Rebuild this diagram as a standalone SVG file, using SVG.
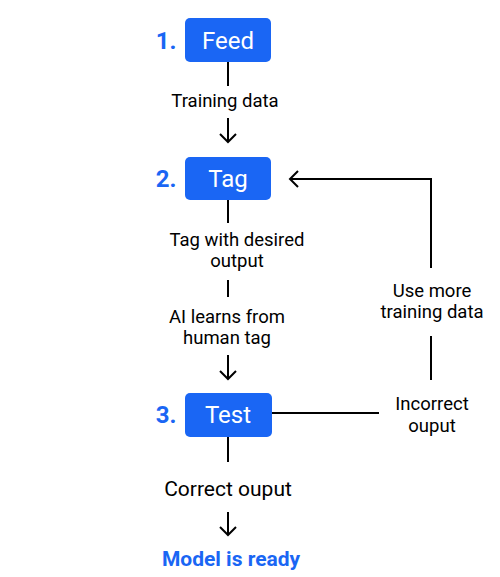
<svg xmlns="http://www.w3.org/2000/svg" width="500" height="577" viewBox="0 0 500 577">
<style>
.box{fill:#1a66f4}
.bt{font-family:Roboto,"Liberation Sans",sans-serif;font-size:24px;fill:#fff;text-anchor:middle}
.num{font-family:Roboto,"Liberation Sans",sans-serif;font-size:24px;font-weight:bold;fill:#1a66f4;text-anchor:middle}
.lbl{font-family:Roboto,"Liberation Sans",sans-serif;font-size:18.5px;fill:#000;text-anchor:middle}
.ln{stroke:#000;stroke-width:2;fill:none}
</style>
<rect width="500" height="577" fill="#fff"/>
<g id="connectors">
<line class="ln" x1="228" y1="62" x2="228" y2="86"/>
<path class="ln" d="M228 118V142M220 134L228 142L236 134"/>
<line class="ln" x1="228" y1="200" x2="228" y2="223"/>
<line class="ln" x1="228" y1="280" x2="228" y2="297"/>
<path class="ln" d="M228 355V379M220 371L228 379L236 371"/>
<line class="ln" x1="228" y1="437" x2="228" y2="462"/>
<path class="ln" d="M228 512V535M220 527L228 535L236 527"/>
<line class="ln" x1="272" y1="413" x2="379" y2="413"/>
<line class="ln" x1="431" y1="336" x2="431" y2="380"/>
<path class="ln" d="M431 268V179H290M298 171L290 179L298 187"/>
<text class="lbl" x="225" y="107">Training data</text>
<text class="lbl" x="237" y="246">Tag with desired</text>
<text class="lbl" x="237" y="267">output</text>
<text class="lbl" x="227" y="323">AI learns from</text>
<text class="lbl" x="227" y="344">human tag</text>
<text class="lbl" x="432" y="297">Use more</text>
<text class="lbl" x="432" y="318">training data</text>
<text class="lbl" x="432" y="410">Incorrect</text>
<text class="lbl" x="432" y="432">ouput</text>
<text class="lbl" x="228" y="496" style="font-size:21px">Correct ouput</text>
</g>
<g id="feed">
<rect class="box" x="185" y="18" width="86" height="44" rx="5"/>
<text class="num" x="166" y="49">1.</text>
<text class="bt" x="228" y="49">Feed</text>
</g>
<g id="tag">
<rect class="box" x="185" y="157" width="86" height="43" rx="5"/>
<text class="num" x="166" y="187">2.</text>
<text class="bt" x="228" y="187">Tag</text>
</g>
<g id="test">
<rect class="box" x="185" y="393" width="87" height="44" rx="5"/>
<text class="num" x="166" y="423">3.</text>
<text class="bt" x="228" y="423">Test</text>
</g>
<g id="ready">
<text x="231" y="566" font-family="Roboto,'Liberation Sans',sans-serif" font-size="21" font-weight="bold" fill="#1a66f4" text-anchor="middle">Model is ready</text>
</g>
</svg>
